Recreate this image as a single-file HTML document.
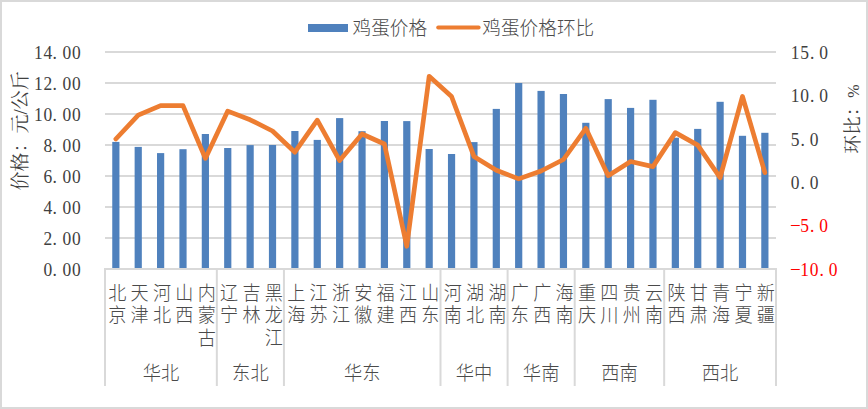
<!DOCTYPE html><html><head><meta charset="utf-8"><style>html,body{margin:0;padding:0;background:#fff;}svg{display:block;}</style></head><body>
<svg width="868" height="409" viewBox="0 0 868 409">
<rect x="0" y="0" width="868" height="409" fill="#fff"/>
<rect x="1" y="1" width="866" height="407" fill="none" stroke="#d9d9d9" stroke-width="2"/>
<rect x="105" y="51" width="671" height="2" fill="#d9d9d9"/>
<rect x="105" y="82" width="671" height="2" fill="#d9d9d9"/>
<rect x="105" y="113" width="671" height="2" fill="#d9d9d9"/>
<rect x="105" y="144" width="671" height="2" fill="#d9d9d9"/>
<rect x="105" y="175" width="671" height="2" fill="#d9d9d9"/>
<rect x="105" y="206" width="671" height="2" fill="#d9d9d9"/>
<rect x="105" y="237" width="671" height="2" fill="#d9d9d9"/>
<rect x="112.25" y="141.9" width="7.2" height="126.1" fill="#4f81bd"/>
<rect x="134.63" y="146.9" width="7.2" height="121.1" fill="#4f81bd"/>
<rect x="157.01" y="153.1" width="7.2" height="114.9" fill="#4f81bd"/>
<rect x="179.39" y="149.2" width="7.2" height="118.8" fill="#4f81bd"/>
<rect x="201.77" y="134.0" width="7.2" height="134.0" fill="#4f81bd"/>
<rect x="224.15" y="148.0" width="7.2" height="120.0" fill="#4f81bd"/>
<rect x="246.53" y="145.1" width="7.2" height="122.9" fill="#4f81bd"/>
<rect x="268.91" y="145.0" width="7.2" height="123.0" fill="#4f81bd"/>
<rect x="291.29" y="131.0" width="7.2" height="137.0" fill="#4f81bd"/>
<rect x="313.67" y="139.9" width="7.2" height="128.1" fill="#4f81bd"/>
<rect x="336.05" y="118.1" width="7.2" height="149.9" fill="#4f81bd"/>
<rect x="358.43" y="131.2" width="7.2" height="136.8" fill="#4f81bd"/>
<rect x="380.81" y="121.0" width="7.2" height="147.0" fill="#4f81bd"/>
<rect x="403.19" y="121.1" width="7.2" height="146.9" fill="#4f81bd"/>
<rect x="425.57" y="149.0" width="7.2" height="119.0" fill="#4f81bd"/>
<rect x="447.95" y="154.0" width="7.2" height="114.0" fill="#4f81bd"/>
<rect x="470.33" y="142.1" width="7.2" height="125.9" fill="#4f81bd"/>
<rect x="492.71" y="108.9" width="7.2" height="159.1" fill="#4f81bd"/>
<rect x="515.09" y="83.0" width="7.2" height="185.0" fill="#4f81bd"/>
<rect x="537.47" y="90.9" width="7.2" height="177.1" fill="#4f81bd"/>
<rect x="559.85" y="94.0" width="7.2" height="174.0" fill="#4f81bd"/>
<rect x="582.23" y="122.8" width="7.2" height="145.2" fill="#4f81bd"/>
<rect x="604.61" y="99.1" width="7.2" height="168.9" fill="#4f81bd"/>
<rect x="626.99" y="107.9" width="7.2" height="160.1" fill="#4f81bd"/>
<rect x="649.37" y="99.8" width="7.2" height="168.2" fill="#4f81bd"/>
<rect x="671.75" y="137.7" width="7.2" height="130.3" fill="#4f81bd"/>
<rect x="694.13" y="128.9" width="7.2" height="139.1" fill="#4f81bd"/>
<rect x="716.51" y="101.8" width="7.2" height="166.2" fill="#4f81bd"/>
<rect x="738.89" y="135.8" width="7.2" height="132.2" fill="#4f81bd"/>
<rect x="761.27" y="132.8" width="7.2" height="135.2" fill="#4f81bd"/>
<rect x="104" y="268" width="673" height="2" fill="#d9d9d9"/>
<rect x="104.00" y="268" width="2" height="118" fill="#d9d9d9"/>
<rect x="215.83" y="268" width="2" height="118" fill="#d9d9d9"/>
<rect x="282.93" y="268" width="2" height="118" fill="#d9d9d9"/>
<rect x="439.50" y="268" width="2" height="118" fill="#d9d9d9"/>
<rect x="506.60" y="268" width="2" height="118" fill="#d9d9d9"/>
<rect x="573.70" y="268" width="2" height="118" fill="#d9d9d9"/>
<rect x="663.17" y="268" width="2" height="118" fill="#d9d9d9"/>
<rect x="775.00" y="268" width="2" height="118" fill="#d9d9d9"/>
<polyline points="115.85,139 138.23,115.2 160.61,105.6 182.99,105.6 205.37,158.4 227.75,111.1 250.13,119.8 272.51,131 294.89,152.2 317.27,120.2 339.65,160.6 362.03,134 384.41,144 406.79,246.3 429.17,76.3 451.55,96.5 473.93,156.4 496.31,170.2 518.69,178.9 541.07,171 563.45,159.5 585.83,128.3 608.21,175.7 630.59,161.5 652.97,166.6 675.35,132.6 697.73,145.1 720.11,177.7 742.49,96.4 764.87,172.7" fill="none" stroke="#ed7d31" stroke-width="4.7" stroke-linejoin="round" stroke-linecap="round"/>
<text transform="scale(0.92,1)" x="41.74 52.07 59.35 72.72 83.04" y="58.80" text-anchor="middle" font-family="'Liberation Serif', serif" font-size="19" fill="#404040">14.00</text>
<text transform="scale(0.92,1)" x="41.74 52.07 59.35 72.72 83.04" y="89.80" text-anchor="middle" font-family="'Liberation Serif', serif" font-size="19" fill="#404040">12.00</text>
<text transform="scale(0.92,1)" x="41.74 52.07 59.35 72.72 83.04" y="120.80" text-anchor="middle" font-family="'Liberation Serif', serif" font-size="19" fill="#404040">10.00</text>
<text transform="scale(0.92,1)" x="52.07 59.35 72.72 83.04" y="151.80" text-anchor="middle" font-family="'Liberation Serif', serif" font-size="19" fill="#404040">8.00</text>
<text transform="scale(0.92,1)" x="52.07 59.35 72.72 83.04" y="182.80" text-anchor="middle" font-family="'Liberation Serif', serif" font-size="19" fill="#404040">6.00</text>
<text transform="scale(0.92,1)" x="52.07 59.35 72.72 83.04" y="213.80" text-anchor="middle" font-family="'Liberation Serif', serif" font-size="19" fill="#404040">4.00</text>
<text transform="scale(0.92,1)" x="52.07 59.35 72.72 83.04" y="244.80" text-anchor="middle" font-family="'Liberation Serif', serif" font-size="19" fill="#404040">2.00</text>
<text transform="scale(0.92,1)" x="52.07 59.35 72.72 83.04" y="275.80" text-anchor="middle" font-family="'Liberation Serif', serif" font-size="19" fill="#404040">0.00</text>
<text transform="scale(0.92,1)" x="864.35 874.67 882.83 895.33" y="58.80" text-anchor="middle" font-family="'Liberation Serif', serif" font-size="19" fill="#404040">15.0</text>
<text transform="scale(0.92,1)" x="864.35 874.67 882.83 895.33" y="102.20" text-anchor="middle" font-family="'Liberation Serif', serif" font-size="19" fill="#404040">10.0</text>
<text transform="scale(0.92,1)" x="864.35 872.50 885.00" y="145.60" text-anchor="middle" font-family="'Liberation Serif', serif" font-size="19" fill="#404040">5.0</text>
<text transform="scale(0.92,1)" x="864.35 872.50 885.00" y="189.00" text-anchor="middle" font-family="'Liberation Serif', serif" font-size="19" fill="#404040">0.0</text>
<text x="795.3" y="232.30" text-anchor="middle" font-family="'Liberation Serif', serif" font-size="19" fill="#ff0000">−</text>
<text transform="scale(0.92,1)" x="874.67 882.83 895.33" y="232.40" text-anchor="middle" font-family="'Liberation Serif', serif" font-size="19" fill="#ff0000">5.0</text>
<text x="795.3" y="275.70" text-anchor="middle" font-family="'Liberation Serif', serif" font-size="19" fill="#ff0000">−</text>
<text transform="scale(0.92,1)" x="874.67 885.00 893.15 905.65" y="275.80" text-anchor="middle" font-family="'Liberation Serif', serif" font-size="19" fill="#ff0000">10.0</text>
<text transform="translate(26.8,130.8) rotate(-90)" text-anchor="middle" font-family="'Liberation Serif', 'Noto Serif CJK SC', serif" font-size="19" fill="#404040">价格：元/公斤</text>
<text transform="translate(858.5,119) rotate(-90)" text-anchor="middle" font-family="'Liberation Serif', 'Noto Serif CJK SC', serif" font-size="18.67" fill="#404040">环比：<tspan font-size="16">%</tspan></text>
<text transform="translate(117.28,300.2) scale(0.97,1.05)" text-anchor="middle" font-family="'Noto Sans CJK SC', sans-serif" font-size="18.67" font-weight="300" fill="#4a4a4a">北</text>
<text transform="translate(117.28,322.4) scale(0.97,1.05)" text-anchor="middle" font-family="'Noto Sans CJK SC', sans-serif" font-size="18.67" font-weight="300" fill="#4a4a4a">京</text>
<text transform="translate(139.65,300.2) scale(0.97,1.05)" text-anchor="middle" font-family="'Noto Sans CJK SC', sans-serif" font-size="18.67" font-weight="300" fill="#4a4a4a">天</text>
<text transform="translate(139.65,322.4) scale(0.97,1.05)" text-anchor="middle" font-family="'Noto Sans CJK SC', sans-serif" font-size="18.67" font-weight="300" fill="#4a4a4a">津</text>
<text transform="translate(162.02,300.2) scale(0.97,1.05)" text-anchor="middle" font-family="'Noto Sans CJK SC', sans-serif" font-size="18.67" font-weight="300" fill="#4a4a4a">河</text>
<text transform="translate(162.02,322.4) scale(0.97,1.05)" text-anchor="middle" font-family="'Noto Sans CJK SC', sans-serif" font-size="18.67" font-weight="300" fill="#4a4a4a">北</text>
<text transform="translate(184.38,300.2) scale(0.97,1.05)" text-anchor="middle" font-family="'Noto Sans CJK SC', sans-serif" font-size="18.67" font-weight="300" fill="#4a4a4a">山</text>
<text transform="translate(184.38,322.4) scale(0.97,1.05)" text-anchor="middle" font-family="'Noto Sans CJK SC', sans-serif" font-size="18.67" font-weight="300" fill="#4a4a4a">西</text>
<text transform="translate(206.75,300.2) scale(0.97,1.05)" text-anchor="middle" font-family="'Noto Sans CJK SC', sans-serif" font-size="18.67" font-weight="300" fill="#4a4a4a">内</text>
<text transform="translate(206.75,322.4) scale(0.97,1.05)" text-anchor="middle" font-family="'Noto Sans CJK SC', sans-serif" font-size="18.67" font-weight="300" fill="#4a4a4a">蒙</text>
<text transform="translate(206.75,344.6) scale(0.97,1.05)" text-anchor="middle" font-family="'Noto Sans CJK SC', sans-serif" font-size="18.67" font-weight="300" fill="#4a4a4a">古</text>
<text transform="translate(229.12,300.2) scale(0.97,1.05)" text-anchor="middle" font-family="'Noto Sans CJK SC', sans-serif" font-size="18.67" font-weight="300" fill="#4a4a4a">辽</text>
<text transform="translate(229.12,322.4) scale(0.97,1.05)" text-anchor="middle" font-family="'Noto Sans CJK SC', sans-serif" font-size="18.67" font-weight="300" fill="#4a4a4a">宁</text>
<text transform="translate(251.48,300.2) scale(0.97,1.05)" text-anchor="middle" font-family="'Noto Sans CJK SC', sans-serif" font-size="18.67" font-weight="300" fill="#4a4a4a">吉</text>
<text transform="translate(251.48,322.4) scale(0.97,1.05)" text-anchor="middle" font-family="'Noto Sans CJK SC', sans-serif" font-size="18.67" font-weight="300" fill="#4a4a4a">林</text>
<text transform="translate(273.85,300.2) scale(0.97,1.05)" text-anchor="middle" font-family="'Noto Sans CJK SC', sans-serif" font-size="18.67" font-weight="300" fill="#4a4a4a">黑</text>
<text transform="translate(273.85,322.4) scale(0.97,1.05)" text-anchor="middle" font-family="'Noto Sans CJK SC', sans-serif" font-size="18.67" font-weight="300" fill="#4a4a4a">龙</text>
<text transform="translate(273.85,344.6) scale(0.97,1.05)" text-anchor="middle" font-family="'Noto Sans CJK SC', sans-serif" font-size="18.67" font-weight="300" fill="#4a4a4a">江</text>
<text transform="translate(296.22,300.2) scale(0.97,1.05)" text-anchor="middle" font-family="'Noto Sans CJK SC', sans-serif" font-size="18.67" font-weight="300" fill="#4a4a4a">上</text>
<text transform="translate(296.22,322.4) scale(0.97,1.05)" text-anchor="middle" font-family="'Noto Sans CJK SC', sans-serif" font-size="18.67" font-weight="300" fill="#4a4a4a">海</text>
<text transform="translate(318.58,300.2) scale(0.97,1.05)" text-anchor="middle" font-family="'Noto Sans CJK SC', sans-serif" font-size="18.67" font-weight="300" fill="#4a4a4a">江</text>
<text transform="translate(318.58,322.4) scale(0.97,1.05)" text-anchor="middle" font-family="'Noto Sans CJK SC', sans-serif" font-size="18.67" font-weight="300" fill="#4a4a4a">苏</text>
<text transform="translate(340.95,300.2) scale(0.97,1.05)" text-anchor="middle" font-family="'Noto Sans CJK SC', sans-serif" font-size="18.67" font-weight="300" fill="#4a4a4a">浙</text>
<text transform="translate(340.95,322.4) scale(0.97,1.05)" text-anchor="middle" font-family="'Noto Sans CJK SC', sans-serif" font-size="18.67" font-weight="300" fill="#4a4a4a">江</text>
<text transform="translate(363.32,300.2) scale(0.97,1.05)" text-anchor="middle" font-family="'Noto Sans CJK SC', sans-serif" font-size="18.67" font-weight="300" fill="#4a4a4a">安</text>
<text transform="translate(363.32,322.4) scale(0.97,1.05)" text-anchor="middle" font-family="'Noto Sans CJK SC', sans-serif" font-size="18.67" font-weight="300" fill="#4a4a4a">徽</text>
<text transform="translate(385.68,300.2) scale(0.97,1.05)" text-anchor="middle" font-family="'Noto Sans CJK SC', sans-serif" font-size="18.67" font-weight="300" fill="#4a4a4a">福</text>
<text transform="translate(385.68,322.4) scale(0.97,1.05)" text-anchor="middle" font-family="'Noto Sans CJK SC', sans-serif" font-size="18.67" font-weight="300" fill="#4a4a4a">建</text>
<text transform="translate(408.05,300.2) scale(0.97,1.05)" text-anchor="middle" font-family="'Noto Sans CJK SC', sans-serif" font-size="18.67" font-weight="300" fill="#4a4a4a">江</text>
<text transform="translate(408.05,322.4) scale(0.97,1.05)" text-anchor="middle" font-family="'Noto Sans CJK SC', sans-serif" font-size="18.67" font-weight="300" fill="#4a4a4a">西</text>
<text transform="translate(430.42,300.2) scale(0.97,1.05)" text-anchor="middle" font-family="'Noto Sans CJK SC', sans-serif" font-size="18.67" font-weight="300" fill="#4a4a4a">山</text>
<text transform="translate(430.42,322.4) scale(0.97,1.05)" text-anchor="middle" font-family="'Noto Sans CJK SC', sans-serif" font-size="18.67" font-weight="300" fill="#4a4a4a">东</text>
<text transform="translate(452.78,300.2) scale(0.97,1.05)" text-anchor="middle" font-family="'Noto Sans CJK SC', sans-serif" font-size="18.67" font-weight="300" fill="#4a4a4a">河</text>
<text transform="translate(452.78,322.4) scale(0.97,1.05)" text-anchor="middle" font-family="'Noto Sans CJK SC', sans-serif" font-size="18.67" font-weight="300" fill="#4a4a4a">南</text>
<text transform="translate(475.15,300.2) scale(0.97,1.05)" text-anchor="middle" font-family="'Noto Sans CJK SC', sans-serif" font-size="18.67" font-weight="300" fill="#4a4a4a">湖</text>
<text transform="translate(475.15,322.4) scale(0.97,1.05)" text-anchor="middle" font-family="'Noto Sans CJK SC', sans-serif" font-size="18.67" font-weight="300" fill="#4a4a4a">北</text>
<text transform="translate(497.52,300.2) scale(0.97,1.05)" text-anchor="middle" font-family="'Noto Sans CJK SC', sans-serif" font-size="18.67" font-weight="300" fill="#4a4a4a">湖</text>
<text transform="translate(497.52,322.4) scale(0.97,1.05)" text-anchor="middle" font-family="'Noto Sans CJK SC', sans-serif" font-size="18.67" font-weight="300" fill="#4a4a4a">南</text>
<text transform="translate(519.88,300.2) scale(0.97,1.05)" text-anchor="middle" font-family="'Noto Sans CJK SC', sans-serif" font-size="18.67" font-weight="300" fill="#4a4a4a">广</text>
<text transform="translate(519.88,322.4) scale(0.97,1.05)" text-anchor="middle" font-family="'Noto Sans CJK SC', sans-serif" font-size="18.67" font-weight="300" fill="#4a4a4a">东</text>
<text transform="translate(542.25,300.2) scale(0.97,1.05)" text-anchor="middle" font-family="'Noto Sans CJK SC', sans-serif" font-size="18.67" font-weight="300" fill="#4a4a4a">广</text>
<text transform="translate(542.25,322.4) scale(0.97,1.05)" text-anchor="middle" font-family="'Noto Sans CJK SC', sans-serif" font-size="18.67" font-weight="300" fill="#4a4a4a">西</text>
<text transform="translate(564.62,300.2) scale(0.97,1.05)" text-anchor="middle" font-family="'Noto Sans CJK SC', sans-serif" font-size="18.67" font-weight="300" fill="#4a4a4a">海</text>
<text transform="translate(564.62,322.4) scale(0.97,1.05)" text-anchor="middle" font-family="'Noto Sans CJK SC', sans-serif" font-size="18.67" font-weight="300" fill="#4a4a4a">南</text>
<text transform="translate(586.98,300.2) scale(0.97,1.05)" text-anchor="middle" font-family="'Noto Sans CJK SC', sans-serif" font-size="18.67" font-weight="300" fill="#4a4a4a">重</text>
<text transform="translate(586.98,322.4) scale(0.97,1.05)" text-anchor="middle" font-family="'Noto Sans CJK SC', sans-serif" font-size="18.67" font-weight="300" fill="#4a4a4a">庆</text>
<text transform="translate(609.35,300.2) scale(0.97,1.05)" text-anchor="middle" font-family="'Noto Sans CJK SC', sans-serif" font-size="18.67" font-weight="300" fill="#4a4a4a">四</text>
<text transform="translate(609.35,322.4) scale(0.97,1.05)" text-anchor="middle" font-family="'Noto Sans CJK SC', sans-serif" font-size="18.67" font-weight="300" fill="#4a4a4a">川</text>
<text transform="translate(631.72,300.2) scale(0.97,1.05)" text-anchor="middle" font-family="'Noto Sans CJK SC', sans-serif" font-size="18.67" font-weight="300" fill="#4a4a4a">贵</text>
<text transform="translate(631.72,322.4) scale(0.97,1.05)" text-anchor="middle" font-family="'Noto Sans CJK SC', sans-serif" font-size="18.67" font-weight="300" fill="#4a4a4a">州</text>
<text transform="translate(654.08,300.2) scale(0.97,1.05)" text-anchor="middle" font-family="'Noto Sans CJK SC', sans-serif" font-size="18.67" font-weight="300" fill="#4a4a4a">云</text>
<text transform="translate(654.08,322.4) scale(0.97,1.05)" text-anchor="middle" font-family="'Noto Sans CJK SC', sans-serif" font-size="18.67" font-weight="300" fill="#4a4a4a">南</text>
<text transform="translate(676.45,300.2) scale(0.97,1.05)" text-anchor="middle" font-family="'Noto Sans CJK SC', sans-serif" font-size="18.67" font-weight="300" fill="#4a4a4a">陕</text>
<text transform="translate(676.45,322.4) scale(0.97,1.05)" text-anchor="middle" font-family="'Noto Sans CJK SC', sans-serif" font-size="18.67" font-weight="300" fill="#4a4a4a">西</text>
<text transform="translate(698.82,300.2) scale(0.97,1.05)" text-anchor="middle" font-family="'Noto Sans CJK SC', sans-serif" font-size="18.67" font-weight="300" fill="#4a4a4a">甘</text>
<text transform="translate(698.82,322.4) scale(0.97,1.05)" text-anchor="middle" font-family="'Noto Sans CJK SC', sans-serif" font-size="18.67" font-weight="300" fill="#4a4a4a">肃</text>
<text transform="translate(721.18,300.2) scale(0.97,1.05)" text-anchor="middle" font-family="'Noto Sans CJK SC', sans-serif" font-size="18.67" font-weight="300" fill="#4a4a4a">青</text>
<text transform="translate(721.18,322.4) scale(0.97,1.05)" text-anchor="middle" font-family="'Noto Sans CJK SC', sans-serif" font-size="18.67" font-weight="300" fill="#4a4a4a">海</text>
<text transform="translate(743.55,300.2) scale(0.97,1.05)" text-anchor="middle" font-family="'Noto Sans CJK SC', sans-serif" font-size="18.67" font-weight="300" fill="#4a4a4a">宁</text>
<text transform="translate(743.55,322.4) scale(0.97,1.05)" text-anchor="middle" font-family="'Noto Sans CJK SC', sans-serif" font-size="18.67" font-weight="300" fill="#4a4a4a">夏</text>
<text transform="translate(765.92,300.2) scale(0.97,1.05)" text-anchor="middle" font-family="'Noto Sans CJK SC', sans-serif" font-size="18.67" font-weight="300" fill="#4a4a4a">新</text>
<text transform="translate(765.92,322.4) scale(0.97,1.05)" text-anchor="middle" font-family="'Noto Sans CJK SC', sans-serif" font-size="18.67" font-weight="300" fill="#4a4a4a">疆</text>
<text transform="translate(160.92,379.6) scale(0.98,1.05)" text-anchor="middle" font-family="'Noto Sans CJK SC', sans-serif" font-size="18.67" font-weight="300" fill="#4a4a4a">华北</text>
<text transform="translate(250.38,379.6) scale(0.98,1.05)" text-anchor="middle" font-family="'Noto Sans CJK SC', sans-serif" font-size="18.67" font-weight="300" fill="#4a4a4a">东北</text>
<text transform="translate(362.22,379.6) scale(0.98,1.05)" text-anchor="middle" font-family="'Noto Sans CJK SC', sans-serif" font-size="18.67" font-weight="300" fill="#4a4a4a">华东</text>
<text transform="translate(474.05,379.6) scale(0.98,1.05)" text-anchor="middle" font-family="'Noto Sans CJK SC', sans-serif" font-size="18.67" font-weight="300" fill="#4a4a4a">华中</text>
<text transform="translate(541.15,379.6) scale(0.98,1.05)" text-anchor="middle" font-family="'Noto Sans CJK SC', sans-serif" font-size="18.67" font-weight="300" fill="#4a4a4a">华南</text>
<text transform="translate(619.43,379.6) scale(0.98,1.05)" text-anchor="middle" font-family="'Noto Sans CJK SC', sans-serif" font-size="18.67" font-weight="300" fill="#4a4a4a">西南</text>
<text transform="translate(720.08,379.6) scale(0.98,1.05)" text-anchor="middle" font-family="'Noto Sans CJK SC', sans-serif" font-size="18.67" font-weight="300" fill="#4a4a4a">西北</text>
<rect x="308" y="24" width="40" height="8" fill="#4f81bd"/>
<text transform="translate(352.5,35.2) scale(1,1.05)" font-family="'Noto Sans CJK SC', sans-serif" font-size="18.67" font-weight="300" fill="#4a4a4a">鸡蛋价格</text>
<line x1="438.2" y1="27.5" x2="478.6" y2="27.5" stroke="#ed7d31" stroke-width="4" stroke-linecap="round"/>
<text transform="translate(482.3,35.2) scale(1,1.05)" font-family="'Noto Sans CJK SC', sans-serif" font-size="18.67" font-weight="300" fill="#4a4a4a">鸡蛋价格环比</text>
</svg></body></html>
